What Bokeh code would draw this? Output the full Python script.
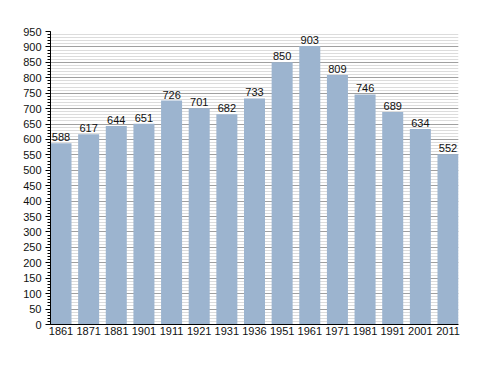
from bokeh.plotting import figure
from bokeh.models import ColumnDataSource, Range1d, FixedTicker, LabelSet
from bokeh.core.properties import value
from bokeh.embed import file_html
from bokeh.resources import INLINE

years = ["1861", "1871", "1881", "1901", "1911", "1921", "1931", "1936",
         "1951", "1961", "1971", "1981", "1991", "2001", "2011"]
population = [588, 617, 644, 651, 726, 701, 682, 733, 850, 903, 809, 746, 689, 634, 552]
y_ticks = list(range(0, 951, 50))

xs = list(range(len(years)))
src = ColumnDataSource(dict(x=xs, top=population, label=[str(v) for v in population]))

p = figure(width=472, height=357, output_backend="svg", toolbar_location=None,
           x_range=Range1d(-0.38, len(years) - 1 + 0.38), y_range=Range1d(0, 950),
           min_border_left=50, min_border_right=14, min_border_top=31, min_border_bottom=33)
p.outline_line_color = None
p.background_fill_color = "white"

p.vbar(x="x", top="top", width=0.76, bottom=0, source=src,
       fill_color="#9cb4cf", line_color=None)

labels = LabelSet(x="x", y="top", text="label", source=src, text_align="center",
                  text_baseline="bottom", y_offset=2, text_font=value("Liberation Sans"),
                  text_font_size=value("11px"), text_color="#111111")
p.add_layout(labels)

p.xgrid.grid_line_color = None
p.ygrid.ticker = FixedTicker(ticks=y_ticks, minor_ticks=list(range(0, 951, 10)))
p.ygrid.grid_line_color = "#a0a0a0"
p.ygrid.grid_line_width = 1
p.ygrid.minor_grid_line_color = "#dcdcdc"
p.ygrid.minor_grid_line_width = 1

p.yaxis.ticker = FixedTicker(ticks=y_ticks, minor_ticks=list(range(0, 951, 10)))
p.yaxis.axis_line_color = "black"
p.yaxis.major_tick_line_color = "black"
p.yaxis.minor_tick_line_color = "black"
p.yaxis.major_tick_out = 5
p.yaxis.major_tick_in = 0
p.yaxis.minor_tick_out = 3
p.yaxis.minor_tick_in = 0
p.yaxis.major_label_text_font = "Liberation Sans"
p.yaxis.major_label_text_font_size = "11px"
p.yaxis.major_label_text_color = "#111111"
p.yaxis.major_label_standoff = 4

p.xaxis.ticker = FixedTicker(ticks=xs)
p.xaxis.major_label_overrides = {i: y for i, y in enumerate(years)}
p.xaxis.axis_line_color = "black"
p.xaxis.axis_line_width = 1
p.xaxis.major_tick_line_color = None
p.xaxis.minor_tick_line_color = None
p.xaxis.major_tick_out = 0
p.xaxis.major_tick_in = 0
p.xaxis.major_label_text_font = "Liberation Sans"
p.xaxis.major_label_text_font_size = "11px"
p.xaxis.major_label_text_color = "#111111"
p.xaxis.major_label_standoff = 2

open("out.html", "w").write(file_html(p, INLINE))
